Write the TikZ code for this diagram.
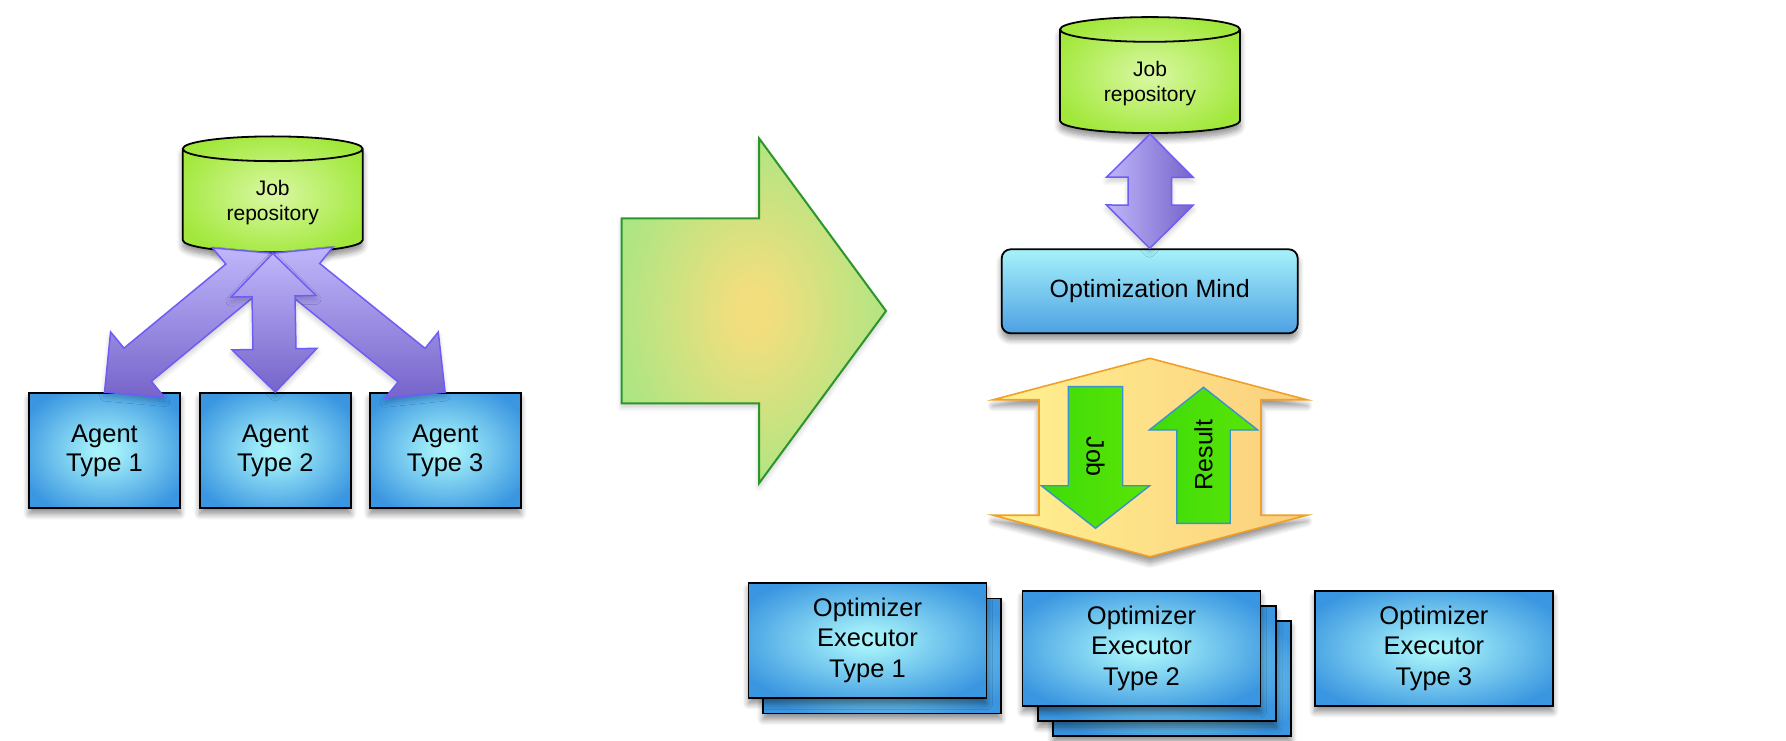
\documentclass[tikz,border=0pt]{standalone}
\usepackage{fontspec}
\setmainfont{Liberation Sans}
\usepackage{tikz}
\usetikzlibrary{calc, positioning, shapes.geometric, shadows.blur}

\definecolor{boxin}{HTML}{A6F2FA}
\definecolor{boxout}{HTML}{3A96E0}
\definecolor{repoin}{HTML}{DAF8A4}
\definecolor{repoout}{HTML}{A2E83C}
\definecolor{bigin}{HTML}{F3DE7E}
\definecolor{bigout}{HTML}{96E884}
\definecolor{fantop}{HTML}{BFB6FA}
\definecolor{fanbot}{HTML}{7664CA}
\definecolor{fanline}{HTML}{6D5CF5}
\definecolor{swapl}{HTML}{FFF190}
\definecolor{swapr}{HTML}{FBCF7E}
\definecolor{swapline}{HTML}{F0A028}
\definecolor{jobl}{HTML}{3EDC0A}
\definecolor{jobr}{HTML}{5AE406}
\definecolor{jobline}{HTML}{3A90D0}
\definecolor{bigline}{HTML}{2C962C}
\pgfdeclareradialshading{boxglow}{\pgfpoint{0bp}{0bp}}{color(0bp)=(boxin); color(3bp)=(boxin); color(30bp)=(boxout); color(60bp)=(boxout)}
\pgfdeclareradialshading{repoglow}{\pgfpoint{0bp}{0bp}}{color(0bp)=(repoin); color(28bp)=(repoout); color(60bp)=(repoout)}
\pgfdeclareradialshading{bigglow}{\pgfpoint{0bp}{0bp}}{color(0bp)=(bigin); color(3bp)=(bigin); color(34bp)=(bigout); color(60bp)=(bigout)}

% block arrow with a head on both ends: style, from, to, shaft half, head half, head length
\newcommand{\fatarrow}[6]{%
  \coordinate (ha) at ($(#2)!#6!(#3)$);
  \coordinate (hb) at ($(#3)!#6!(#2)$);
  \path[#1] (#2) -- ($(ha)!#5!-90:(#3)$) -- ($(ha)!#4!-90:(#3)$)
    -- ($(hb)!#4!90:(#2)$) -- ($(hb)!#5!90:(#2)$) -- (#3)
    -- ($(hb)!#5!-90:(#2)$) -- ($(hb)!#4!-90:(#2)$)
    -- ($(ha)!#4!90:(#3)$) -- ($(ha)!#5!90:(#3)$) -- cycle;}
% block arrow with one head: style, tail, tip, shaft half, head half, head length
\newcommand{\onearrow}[6]{%
  \coordinate (hb) at ($(#3)!#6!(#2)$);
  \path[#1] (#3) -- ($(hb)!#5!90:(#2)$) -- ($(hb)!#4!90:(#2)$)
    -- ($(#2)!#4!-90:(hb)$) -- ($(#2)!#4!90:(hb)$)
    -- ($(hb)!#4!-90:(#2)$) -- ($(hb)!#5!-90:(#2)$) -- cycle;}

\begin{document}
\begin{tikzpicture}[
    x=1pt, y=1pt,
    soft/.style={blur shadow={shadow xshift=0pt, shadow yshift=-6pt, shadow blur radius=6pt, shadow blur steps=8, shadow opacity=45}},
    faint/.style={blur shadow={shadow xshift=0pt, shadow yshift=-4pt, shadow blur radius=5pt, shadow blur steps=6, shadow opacity=20}},
    repo/.style={cylinder, shape border rotate=90, aspect=0.25, draw=black, line width=1.8pt, shading=repoglow, minimum width=180pt, minimum height=116pt, align=center, font=\fontsize{21}{25}\selectfont, soft},
    agent/.style={rectangle, draw=black, line width=1.8pt, shading=boxglow, minimum width=151pt, minimum height=115pt, align=center, font=\fontsize{25.5}{29}\selectfont, soft},
    exec/.style={agent, minimum width=238pt, minimum height=115pt, font=\fontsize{25.5}{30.5}\selectfont},
    mind/.style={rectangle, rounded corners=9pt, draw=black, line width=1.8pt, top color=boxin, bottom color=boxout!90!white, minimum width=296pt, minimum height=84pt, font=\fontsize{25}{30}\selectfont, soft},
    fan/.style={draw=fanline, line width=1.5pt, top color=fantop, bottom color=fanbot, line join=miter, faint},
    link/.style={fan, left color=fantop, right color=fanbot},
    swap/.style={draw=swapline, line width=1.6pt, left color=swapl, right color=swapr, soft},
    job/.style={draw=jobline, line width=1.4pt, left color=jobl, right color=jobr},
    big/.style={draw=bigline, line width=2pt, shading=bigglow, line join=miter, faint},
    lab/.style={font=\fontsize{25}{30}\selectfont},
]
    \useasboundingbox (0,0) rectangle (1786,740);

    % before: every agent talks to the repository
    \node[repo, anchor=south] (repoL) at (272.7,486.7) {Job\\repository};
    \node[agent] (agent1) at (104.5,289.5) {Agent\\Type 1};
    \node[agent, right=18pt of agent1] (agent2) {Agent\\Type 2};
    \node[agent, right=17pt of agent2] (agent3) {Agent\\Type 3};
    \fatarrow{fan}{repoL.south}{agent1.north}{21.5pt}{42.5pt}{43pt}
    \fatarrow{fan}{repoL.south}{agent3.north}{21.5pt}{42.5pt}{43pt}
    \fatarrow{fan}{repoL.south}{agent2.north}{21.5pt}{42.5pt}{43pt}

    % becomes
    \path[big] (621.7,521.7) -- (759,521.7) -- (759,601.7) -- (886,429)
        -- (759,256.7) -- (759,336.7) -- (621.7,336.7) -- cycle;

    % after: one mind between repository and executors
    \node[repo, anchor=south] (repoR) at (1150,606) {Job\\repository};
    \node[mind] (mind) at (1149.7,448.7) {Optimization Mind};
    \fatarrow{link}{repoR.south}{mind.north}{21.7pt}{43.3pt}{43.3pt}

    \coordinate (swapT) at (1150,381.7);
    \coordinate (swapB) at (1150,183.3);
    \fatarrow{swap}{swapT}{swapB}{111pt}{157pt}{41.5pt}

    \coordinate (jobA) at (1095.5,353.3);
    \coordinate (jobB) at (1095.5,211.7);
    \coordinate (resA) at (1203.5,216.7);
    \coordinate (resB) at (1203.5,352.7);
    \onearrow{job}{jobA}{jobB}{27.2pt}{54.2pt}{42.6pt}
    \onearrow{job}{resA}{resB}{26.7pt}{54.2pt}{42.7pt}
    \node[lab, rotate=-90] (jobtxt) at (1095.5,283.3) {Job};
    \node[lab, rotate=90] (restxt) at (1203.5,285) {Result};

    \node[exec] (exec1b) at (882,84.1) {};
    \node[exec] (exec1) at (867.5,99.8) {Optimizer\\Executor\\Type 1};
    \node[exec] (exec2c) at (1172,61.7) {};
    \node[exec] (exec2b) at (1157,76.4) {};
    \node[exec] (exec2) at (1141.5,91.7) {Optimizer\\Executor\\Type 2};
    \node[exec, right=52.6pt of exec2] (exec3) {Optimizer\\Executor\\Type 3};
\end{tikzpicture}
\end{document}
